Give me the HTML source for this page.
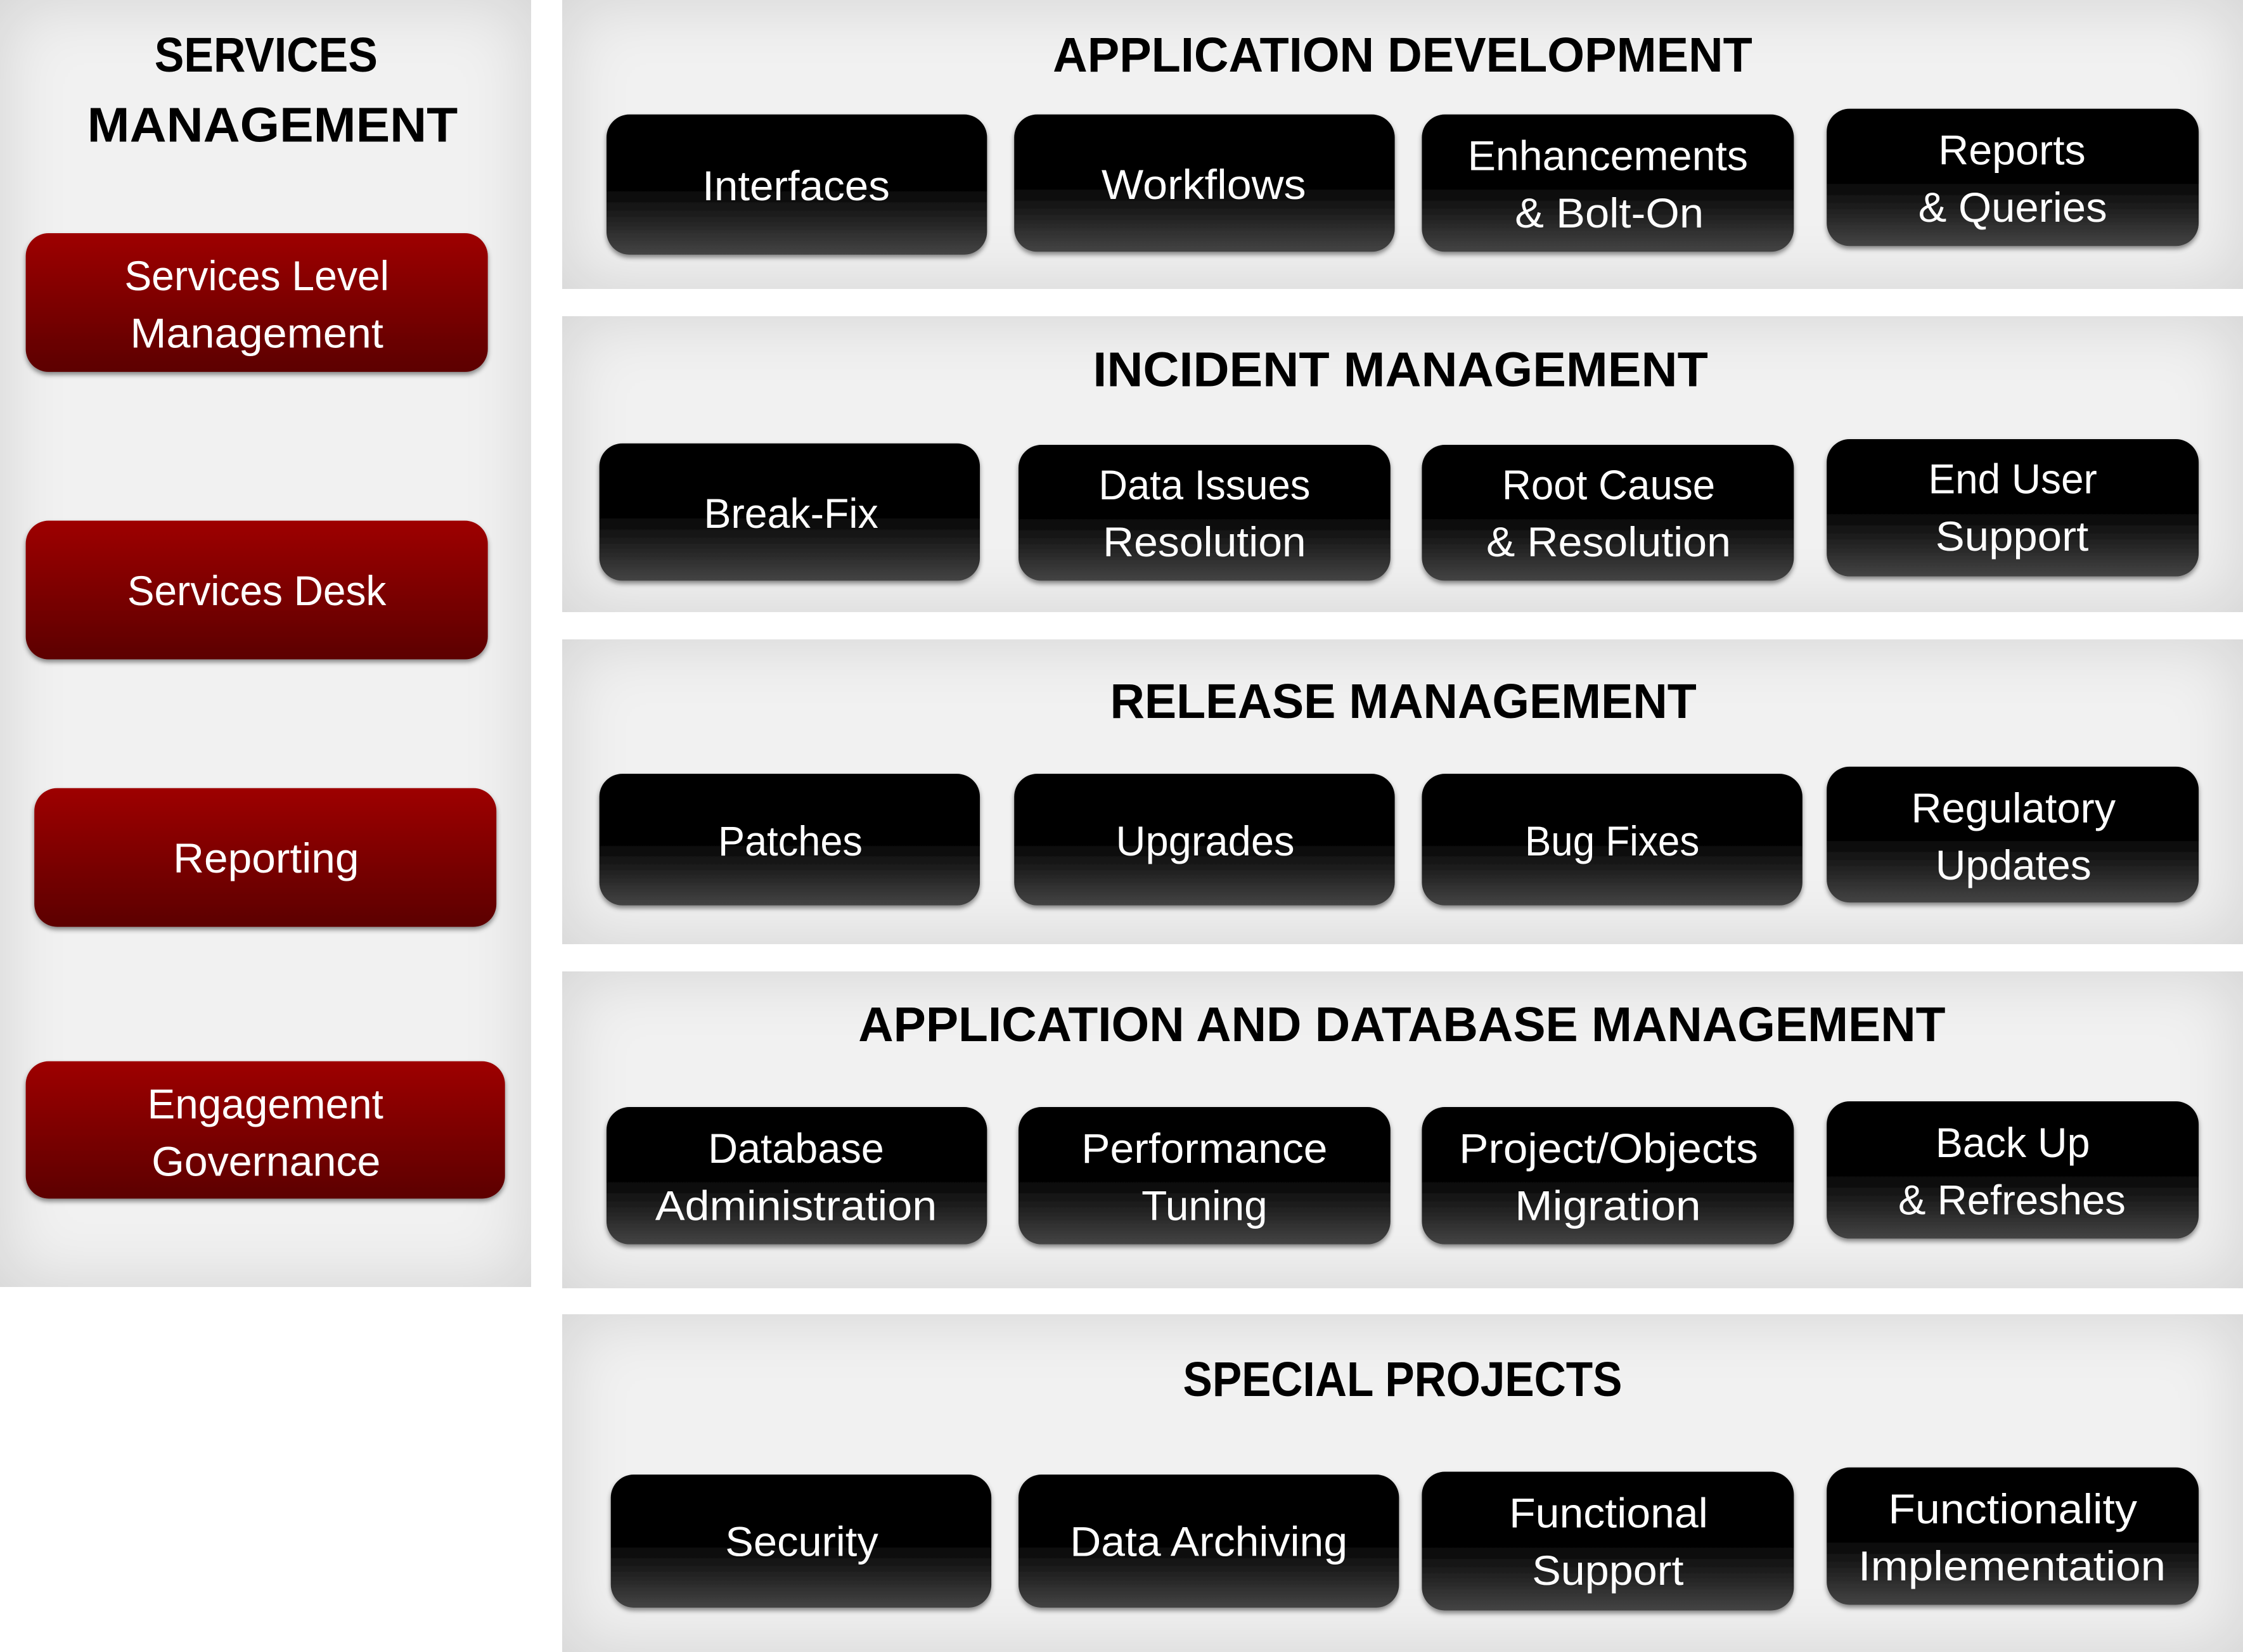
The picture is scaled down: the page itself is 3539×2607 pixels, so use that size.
<!DOCTYPE html>
<html><head><meta charset="utf-8"><style>
html,body{margin:0;padding:0;background:#fff;}
body{width:3539px;height:2607px;position:relative;overflow:hidden;}
.p{position:absolute;background:#f1f1f1;box-shadow:inset 0 0 110px rgba(0,0,0,0.13);}
svg{position:absolute;left:0;top:0;}
</style></head><body>
<div class="p" style="left:0;top:0;width:838px;height:2031px"></div>
<div class="p" style="left:887px;top:0;width:2652px;height:456px"></div>
<div class="p" style="left:887px;top:499px;width:2652px;height:467px"></div>
<div class="p" style="left:887px;top:1009px;width:2652px;height:481px"></div>
<div class="p" style="left:887px;top:1533px;width:2652px;height:500px"></div>
<div class="p" style="left:887px;top:2074px;width:2652px;height:533px"></div>
<svg width="3539" height="2607" viewBox="0 0 1568 1155" xmlns="http://www.w3.org/2000/svg">
<defs>
<linearGradient id="bk" x1="0" y1="0" x2="0" y2="1">
<stop offset="0" stop-color="#000"/><stop offset="0.5" stop-color="#000"/><stop offset="1" stop-color="#444"/></linearGradient>
<linearGradient id="rd" x1="0" y1="0" x2="0" y2="1">
<stop offset="0" stop-color="#9e0000"/><stop offset="1" stop-color="#5c0000"/></linearGradient>
<filter id="sh" x="-10%" y="-10%" width="120%" height="130%"><feDropShadow dx="0" dy="2" stdDeviation="1.6" flood-color="#000" flood-opacity="0.45"/></filter>
</defs>
<g font-family="Liberation Sans, sans-serif" font-weight="bold" font-size="34" fill="#000" text-anchor="middle" lengthAdjust="spacingAndGlyphs">
<text x="186" y="50" textLength="156" lengthAdjust="spacingAndGlyphs">SERVICES</text>
<text x="190.5" y="99" textLength="259" lengthAdjust="spacingAndGlyphs">MANAGEMENT</text>
<text x="980.5" y="50" textLength="489" lengthAdjust="spacingAndGlyphs">APPLICATION DEVELOPMENT</text>
<text x="979" y="270" textLength="430" lengthAdjust="spacingAndGlyphs">INCIDENT MANAGEMENT</text>
<text x="981" y="502" textLength="410" lengthAdjust="spacingAndGlyphs">RELEASE MANAGEMENT</text>
<text x="980" y="728" textLength="760" lengthAdjust="spacingAndGlyphs">APPLICATION AND DATABASE MANAGEMENT</text>
<text x="980.5" y="976" textLength="307" lengthAdjust="spacingAndGlyphs">SPECIAL PROJECTS</text>
</g>
<g filter="url(#sh)">
<rect x="18" y="163" width="323" height="97" rx="16" fill="url(#rd)"/>
<rect x="18" y="364" width="323" height="97" rx="16" fill="url(#rd)"/>
<rect x="24" y="551" width="323" height="97" rx="16" fill="url(#rd)"/>
<rect x="18" y="742" width="335" height="96" rx="16" fill="url(#rd)"/>
<rect x="424" y="80" width="266" height="98" rx="16" fill="url(#bk)"/>
<rect x="709" y="80" width="266" height="96" rx="16" fill="url(#bk)"/>
<rect x="994" y="80" width="260" height="96" rx="16" fill="url(#bk)"/>
<rect x="1277" y="76" width="260" height="96" rx="16" fill="url(#bk)"/>
<rect x="419" y="310" width="266" height="96" rx="16" fill="url(#bk)"/>
<rect x="712" y="311" width="260" height="95" rx="16" fill="url(#bk)"/>
<rect x="994" y="311" width="260" height="95" rx="16" fill="url(#bk)"/>
<rect x="1277" y="307" width="260" height="96" rx="16" fill="url(#bk)"/>
<rect x="419" y="541" width="266" height="92" rx="16" fill="url(#bk)"/>
<rect x="709" y="541" width="266" height="92" rx="16" fill="url(#bk)"/>
<rect x="994" y="541" width="266" height="92" rx="16" fill="url(#bk)"/>
<rect x="1277" y="536" width="260" height="95" rx="16" fill="url(#bk)"/>
<rect x="424" y="774" width="266" height="96" rx="16" fill="url(#bk)"/>
<rect x="712" y="774" width="260" height="96" rx="16" fill="url(#bk)"/>
<rect x="994" y="774" width="260" height="96" rx="16" fill="url(#bk)"/>
<rect x="1277" y="770" width="260" height="96" rx="16" fill="url(#bk)"/>
<rect x="427" y="1031" width="266" height="93" rx="16" fill="url(#bk)"/>
<rect x="712" y="1031" width="266" height="93" rx="16" fill="url(#bk)"/>
<rect x="994" y="1029" width="260" height="97" rx="16" fill="url(#bk)"/>
<rect x="1277" y="1026" width="260" height="96" rx="16" fill="url(#bk)"/>
</g>
<g font-family="Liberation Sans, sans-serif" font-size="29" fill="#fff" text-anchor="middle">
<text x="179.5" y="203" textLength="185" lengthAdjust="spacingAndGlyphs">Services Level</text>
<text x="179.5" y="243" textLength="177" lengthAdjust="spacingAndGlyphs">Management</text>
<text x="179.5" y="423" textLength="181" lengthAdjust="spacingAndGlyphs">Services Desk</text>
<text x="186" y="610" textLength="130" lengthAdjust="spacingAndGlyphs">Reporting</text>
<text x="185.5" y="782" textLength="165" lengthAdjust="spacingAndGlyphs">Engagement</text>
<text x="186" y="822" textLength="160" lengthAdjust="spacingAndGlyphs">Governance</text>

<text x="556.5" y="140" textLength="131" lengthAdjust="spacingAndGlyphs">Interfaces</text>
<text x="841.5" y="139" textLength="143" lengthAdjust="spacingAndGlyphs">Workflows</text>
<text x="1124" y="119" textLength="196" lengthAdjust="spacingAndGlyphs">Enhancements</text>
<text x="1125" y="159" textLength="132" lengthAdjust="spacingAndGlyphs">&amp; Bolt-On</text>
<text x="1406.5" y="115" textLength="103" lengthAdjust="spacingAndGlyphs">Reports</text>
<text x="1407" y="155" textLength="132" lengthAdjust="spacingAndGlyphs">&amp; Queries</text>

<text x="553" y="369" textLength="122" lengthAdjust="spacingAndGlyphs">Break-Fix</text>
<text x="842" y="349" textLength="148" lengthAdjust="spacingAndGlyphs">Data Issues</text>
<text x="842" y="389" textLength="142" lengthAdjust="spacingAndGlyphs">Resolution</text>
<text x="1124.5" y="349" textLength="149" lengthAdjust="spacingAndGlyphs">Root Cause</text>
<text x="1124.5" y="389" textLength="171" lengthAdjust="spacingAndGlyphs">&amp; Resolution</text>
<text x="1407" y="345" textLength="118" lengthAdjust="spacingAndGlyphs">End User</text>
<text x="1406.5" y="385" textLength="107" lengthAdjust="spacingAndGlyphs">Support</text>

<text x="552.5" y="598" textLength="101" lengthAdjust="spacingAndGlyphs">Patches</text>
<text x="842.5" y="598" textLength="125" lengthAdjust="spacingAndGlyphs">Upgrades</text>
<text x="1127" y="598" textLength="122" lengthAdjust="spacingAndGlyphs">Bug Fixes</text>
<text x="1407.5" y="575" textLength="143" lengthAdjust="spacingAndGlyphs">Regulatory</text>
<text x="1407.5" y="615" textLength="109" lengthAdjust="spacingAndGlyphs">Updates</text>

<text x="556.5" y="813" textLength="123" lengthAdjust="spacingAndGlyphs">Database</text>
<text x="556.5" y="853" textLength="197" lengthAdjust="spacingAndGlyphs">Administration</text>
<text x="842" y="813" textLength="172" lengthAdjust="spacingAndGlyphs">Performance</text>
<text x="842" y="853" textLength="88" lengthAdjust="spacingAndGlyphs">Tuning</text>
<text x="1124.5" y="813" textLength="209" lengthAdjust="spacingAndGlyphs">Project/Objects</text>
<text x="1124" y="853" textLength="130" lengthAdjust="spacingAndGlyphs">Migration</text>
<text x="1407" y="809" textLength="108" lengthAdjust="spacingAndGlyphs">Back Up</text>
<text x="1406.5" y="849" textLength="159" lengthAdjust="spacingAndGlyphs">&amp; Refreshes</text>

<text x="560.5" y="1088" textLength="107" lengthAdjust="spacingAndGlyphs">Security</text>
<text x="845" y="1088" textLength="194" lengthAdjust="spacingAndGlyphs">Data Archiving</text>
<text x="1124.5" y="1068" textLength="139" lengthAdjust="spacingAndGlyphs">Functional</text>
<text x="1124" y="1108" textLength="106" lengthAdjust="spacingAndGlyphs">Support</text>
<text x="1407" y="1065" textLength="174" lengthAdjust="spacingAndGlyphs">Functionality</text>
<text x="1406.5" y="1105" textLength="215" lengthAdjust="spacingAndGlyphs">Implementation</text>
</g>
</svg>
</body></html>
